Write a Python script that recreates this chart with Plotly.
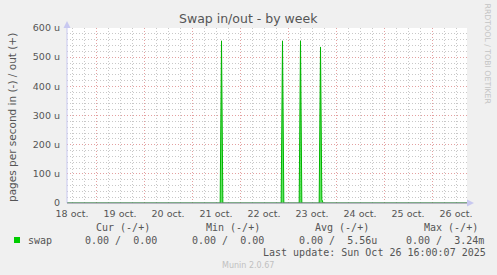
import plotly.graph_objects as go
from datetime import datetime, timedelta

# ---- data ----
x_start = "2025-10-18 09:30"
x_end = "2025-10-26 17:30"
day_labels = ["18 oct.", "19 oct.", "20 oct.", "21 oct.", "22 oct.", "23 oct.", "24 oct.", "25 oct.", "26 oct."]
day_label_dates = ["2025-10-18", "2025-10-19", "2025-10-20", "2025-10-21", "2025-10-22",
                   "2025-10-23", "2025-10-24", "2025-10-25", "2025-10-26"]
spike_times = ["2025-10-21 14:45", "2025-10-22 21:15", "2025-10-23 06:15", "2025-10-23 16:15"]
spike_peaks_u = [556, 556, 556, 535]
spike_tails_u = [0, 0, 0, 12]
y_ticks = [0, 100, 200, 300, 400, 500, 600]
y_tick_text = ["0", "100 u", "200 u", "300 u", "400 u", "500 u", "600 u"]

# ---- build series ----
fmt = "%Y-%m-%d %H:%M"
half = timedelta(minutes=40)
xs = [datetime.strptime(x_start, fmt)]
ys = [0]
for t, p, tail in zip(spike_times, spike_peaks_u, spike_tails_u):
    tt = datetime.strptime(t, fmt)
    xs += [tt - half, tt]
    ys += [0, p]
    if tail:
        xs += [tt + half, tt + 2 * half]
        ys += [tail, 0]
    else:
        xs += [tt + half]
        ys += [0]
xs.append(datetime.strptime(x_end, fmt))
ys.append(0)

W, H = 497, 275
L, R, T, B = 67, 30, 28, 72
PW, PH = W - L - R, H - T - B


def fx(px):
    return (px - L) / PW


def fy(py):
    return (H - B - py) / PH


fig = go.Figure()
fig.add_trace(go.Scatter(
    x=xs, y=ys, mode="lines", line=dict(color="#00b400", width=1),
    fill="tozeroy", fillcolor="rgba(40,220,40,0.75)", showlegend=False, hoverinfo="skip"))
# invisible trace for label axis
fig.add_trace(go.Scatter(x=[x_start, x_end], y=[0, 0], xaxis="x2", mode="lines",
                         line=dict(width=0), showlegend=False, hoverinfo="skip"))

noon = [d + " 12:00" for d in day_label_dates]
midnights = [d + " 00:00" for d in day_label_dates] + ["2025-10-27 00:00"]

grid_red = "rgba(235,150,150,0.8)"
grid_gray = "rgb(200,200,200)"
dash = "1px,2px"

fig.update_layout(
    width=W, height=H,
    margin=dict(l=L, r=R, t=T, b=B, pad=0),
    paper_bgcolor="#f0f0f0", plot_bgcolor="#ffffff",
    font=dict(family="DejaVu Sans", color="#555555", size=10),
    showlegend=False,
    xaxis=dict(
        type="date", range=[x_start, x_end], tickvals=midnights, ticktext=[""] * len(midnights),
        showgrid=True, gridcolor=grid_red, griddash=dash, gridwidth=1,
        ticks="", zeroline=False, showline=False,
        minor=dict(tickmode="linear", dtick=6 * 3600 * 1000, tick0="2025-10-18 00:00", showgrid=True,
                   gridcolor=grid_gray, griddash=dash, gridwidth=1),
    ),
    xaxis2=dict(
        type="date", range=[x_start, x_end], overlaying="x", side="bottom", anchor="y",
        tickvals=noon, ticktext=day_labels, showgrid=False, ticks="",
        tickfont=dict(size=9.5, color="#555555"), ticklabelstandoff=3,
        zeroline=False, showline=False,
    ),
    yaxis=dict(
        range=[0, 600], tickvals=y_ticks, ticktext=y_tick_text,
        showgrid=True, gridcolor=grid_red, griddash=dash, gridwidth=1,
        tickfont=dict(size=9.5, color="#555555"), ticks="", ticklabelstandoff=6,
        zeroline=False, showline=False,
        minor=dict(tickmode="linear", dtick=20, tick0=0, showgrid=True,
                   gridcolor=grid_gray, griddash=dash, gridwidth=1),
    ),
)

# axis lines and arrows
fig.add_shape(type="line", xref="paper", yref="paper", x0=0, x1=0, y0=0, y1=1,
              line=dict(color="#c8c8f0", width=1))
fig.add_shape(type="line", xref="paper", yref="paper", x0=0, x1=1, y0=0, y1=0,
              line=dict(color="#7c7c90", width=1))
fig.add_shape(type="path", xref="paper", yref="paper",
              path=f"M {fx(63.5)},{fy(28)} L {fx(70.5)},{fy(28)} L {fx(67)},{fy(21)} Z",
              fillcolor="#c8c8f0", line=dict(width=0))
fig.add_shape(type="path", xref="paper", yref="paper",
              path=f"M {fx(467)},{fy(199.5)} L {fx(467)},{fy(206.5)} L {fx(474)},{fy(203)} Z",
              fillcolor="#c8c8f0", line=dict(width=0))

anns = []


def ann(text, px, py, size=10, color="#555555", family="DejaVu Sans", xanchor="left", angle=0):
    anns.append(dict(text=text, x=fx(px), y=fy(py), xref="paper", yref="paper",
                     showarrow=False, xanchor=xanchor, yanchor="middle", textangle=angle,
                     font=dict(size=size, color=color, family=family)))


ann("Swap in/out - by week", 248.5, 18.5, size=12.5, color="#555555", xanchor="center")
ann("pages per second in (-) / out (+)", 12, 118, size=10.5, color="#555555", xanchor="center", angle=-90)
ann("RRDTOOL / TOBI OETIKER", 487.5, 54, size=7.8, color="#c4c4c4", xanchor="center", angle=90)

mono = "DejaVu Sans Mono"
ann("Cur (-/+)", 93.5, 227.5, family=mono)
ann("Min (-/+)", 203.5, 227.5, family=mono)
ann("Avg (-/+)", 312.5, 227.5, family=mono)
ann("Max (-/+)", 422, 227.5, family=mono)
ann("swap", 26, 240, family=mono)
ann("0.00 /  0.00", 82.5, 240, family=mono)
ann("0.00 /  0.00", 190, 240, family=mono)
ann("0.00 /  5.56u", 297, 240, family=mono)
ann("0.00 /  3.24m", 403.5, 240, family=mono)
ann("Last update: Sun Oct 26 16:00:07 2025", 261, 252.5, family=mono)
ann("Munin 2.0.67", 248, 265, size=8, color="#c0c0c0", xanchor="center")
fig.update_layout(annotations=anns)

fig.add_shape(type="rect", xref="paper", yref="paper", x0=fx(14), x1=fx(20), y0=fy(243), y1=fy(237),
              fillcolor="#00cc00", line=dict(width=0))

fig.write_html("out.html")
